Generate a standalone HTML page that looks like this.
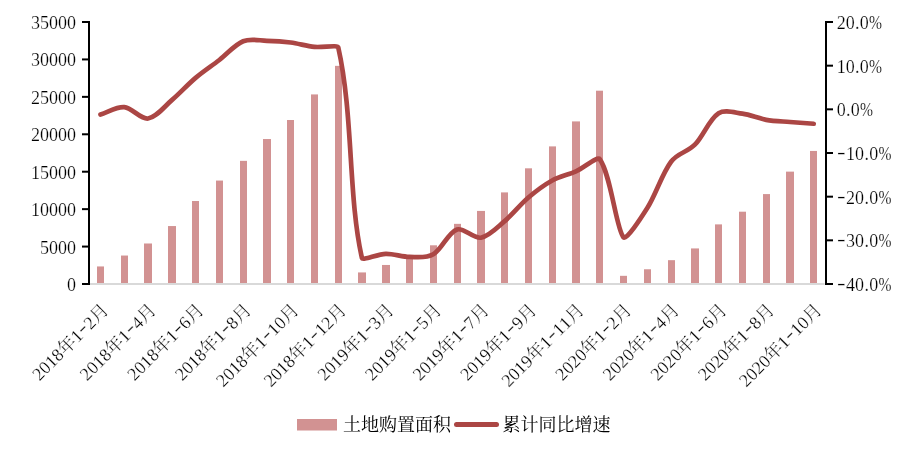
<!DOCTYPE html>
<html lang="zh-CN">
<head>
<meta charset="utf-8">
<title>土地购置面积与累计同比增速</title>
<style>
html,body{margin:0;padding:0;background:#fff;}
body{width:908px;height:454px;overflow:hidden;font-family:"Liberation Serif","Noto Serif CJK SC",serif;}
svg{display:block;}
text{white-space:pre;}
</style>
</head>
<body>
<svg width="908" height="454" viewBox="0 0 908 454">
<rect width="908" height="454" fill="#fff"/>
<g fill="#d29292">
<rect x="97" y="266.45" width="7" height="17.05"/>
<rect x="121" y="255.54" width="7" height="27.96"/>
<rect x="144" y="243.49" width="8" height="40.01"/>
<rect x="168" y="226.05" width="8" height="57.45"/>
<rect x="192" y="201.02" width="7" height="82.48"/>
<rect x="216" y="180.56" width="7" height="102.94"/>
<rect x="240" y="160.85" width="7" height="122.65"/>
<rect x="263" y="139.03" width="8" height="144.47"/>
<rect x="287" y="120.01" width="7" height="163.49"/>
<rect x="311" y="94.42" width="7" height="189.08"/>
<rect x="335" y="65.85" width="7" height="217.65"/>
<rect x="358" y="272.43" width="8" height="11.07"/>
<rect x="382" y="264.96" width="8" height="18.54"/>
<rect x="406" y="257.19" width="7" height="26.31"/>
<rect x="430" y="245.30" width="7" height="38.20"/>
<rect x="454" y="223.85" width="7" height="59.65"/>
<rect x="477" y="210.93" width="8" height="72.57"/>
<rect x="501" y="192.40" width="7" height="91.10"/>
<rect x="525" y="168.32" width="7" height="115.18"/>
<rect x="549" y="146.39" width="7" height="137.11"/>
<rect x="572" y="121.41" width="8" height="162.09"/>
<rect x="596" y="90.70" width="7" height="192.80"/>
<rect x="620" y="275.83" width="7" height="7.67"/>
<rect x="644" y="269.26" width="7" height="14.24"/>
<rect x="668" y="260.17" width="7" height="23.33"/>
<rect x="691" y="248.43" width="8" height="35.07"/>
<rect x="715" y="224.38" width="7" height="59.12"/>
<rect x="739" y="211.70" width="7" height="71.80"/>
<rect x="763" y="194.09" width="7" height="89.41"/>
<rect x="786" y="171.63" width="8" height="111.87"/>
<rect x="810" y="150.94" width="7" height="132.56"/>
</g>
<rect x="89.6" y="283.0" width="735.0" height="2" fill="#d9d9d9"/>
<g fill="#000">
<rect x="88" y="21.0" width="2" height="264.0"/>
<rect x="825" y="21.0" width="2" height="264.0"/>
<rect x="82" y="21.00" width="6" height="2"/>
<rect x="82" y="58.43" width="6" height="2"/>
<rect x="82" y="95.86" width="6" height="2"/>
<rect x="82" y="133.29" width="6" height="2"/>
<rect x="82" y="170.71" width="6" height="2"/>
<rect x="82" y="208.14" width="6" height="2"/>
<rect x="82" y="245.57" width="6" height="2"/>
<rect x="82" y="283.00" width="6" height="2"/>
<rect x="827" y="21.00" width="6" height="2"/>
<rect x="827" y="64.67" width="6" height="2"/>
<rect x="827" y="108.33" width="6" height="2"/>
<rect x="827" y="152.00" width="6" height="2"/>
<rect x="827" y="195.67" width="6" height="2"/>
<rect x="827" y="239.33" width="6" height="2"/>
<rect x="827" y="283.00" width="6" height="2"/>
</g>
<path d="M100.49,114.57 C108.41,112.10 116.46,106.51 124.26,107.15 C132.31,107.82 140.67,119.59 148.04,118.50 C156.52,117.26 164.05,106.79 171.81,100.16 C179.90,93.26 187.48,84.74 195.58,77.89 C203.33,71.35 211.47,66.08 219.36,59.99 C227.32,53.85 234.73,44.61 243.13,41.21 C250.58,38.20 258.99,40.56 266.91,40.78 C274.84,41.00 282.78,41.51 290.68,42.52 C298.63,43.55 306.50,46.09 314.45,46.89 C322.35,47.69 337.66,44.78 338.23,47.33 C353.51,115.23 348.07,197.72 362.00,258.24 C362.56,260.67 377.84,254.09 385.78,253.87 C393.69,253.65 401.62,256.85 409.55,256.93 C417.47,257.00 426.12,258.48 433.33,254.31 C441.97,249.31 447.78,232.67 457.10,229.42 C463.63,227.14 473.43,239.01 480.87,237.71 C489.28,236.25 497.01,227.57 504.65,221.12 C512.86,214.18 520.23,204.54 528.42,197.54 C536.08,191.00 544.00,185.03 552.20,180.51 C559.85,176.29 568.14,174.86 575.97,171.34 C583.99,167.73 597.45,155.92 599.75,159.11 C611.05,174.79 616.28,229.83 623.52,237.28 C626.45,240.29 640.01,219.60 647.29,208.02 C655.86,194.42 662.01,173.80 671.07,161.73 C677.86,152.69 687.51,152.18 694.84,144.70 C703.36,136.02 709.02,119.52 718.62,113.26 C724.87,109.19 734.53,112.62 742.39,113.70 C750.38,114.80 758.18,118.42 766.16,119.81 C774.03,121.19 782.01,121.34 789.94,122.00 C797.86,122.65 805.79,123.16 813.71,123.74" fill="none" stroke="#ab4644" stroke-width="4.7" stroke-linecap="round" stroke-linejoin="round"/>
<g font-family='"Liberation Serif","Noto Serif CJK SC",serif' font-size="18" fill="#000" stroke="#fff" stroke-width="0.2">
<text transform="translate(76.10,29.00)" x="-45.00 -36.00 -27.00 -18.00 -9.00" y="0 0 0 0 0">35000</text>
<text transform="translate(76.10,66.43)" x="-45.00 -36.00 -27.00 -18.00 -9.00" y="0 0 0 0 0">30000</text>
<text transform="translate(76.10,103.86)" x="-45.00 -36.00 -27.00 -18.00 -9.00" y="0 0 0 0 0">25000</text>
<text transform="translate(76.10,141.29)" x="-45.00 -36.00 -27.00 -18.00 -9.00" y="0 0 0 0 0">20000</text>
<text transform="translate(76.10,178.71)" x="-45.00 -36.00 -27.00 -18.00 -9.00" y="0 0 0 0 0">15000</text>
<text transform="translate(76.10,216.14)" x="-45.00 -36.00 -27.00 -18.00 -9.00" y="0 0 0 0 0">10000</text>
<text transform="translate(76.10,253.57)" x="-36.00 -27.00 -18.00 -9.00" y="0 0 0 0">5000</text>
<text transform="translate(76.10,291.00)" x="-9.00" y="0">0</text>
<text transform="translate(836.65,29.00)" x="0.00 9.00 18.35 23.20 32.40" y="0 0 0 0 0">20.0<tspan textLength="13.0" lengthAdjust="spacingAndGlyphs">%</tspan></text>
<text transform="translate(836.65,72.67)" x="0.00 9.00 18.35 23.20 32.40" y="0 0 0 0 0">10.0<tspan textLength="13.0" lengthAdjust="spacingAndGlyphs">%</tspan></text>
<text transform="translate(836.65,116.33)" x="0.00 9.35 14.20 23.40" y="0 0 0 0">0.0<tspan textLength="13.0" lengthAdjust="spacingAndGlyphs">%</tspan></text>
<text transform="translate(836.65,160.00)" x="0.40 9.40 18.40 27.75 32.60 41.80" y="-2.1 0 0 0 0 0"><tspan textLength="8.6" lengthAdjust="spacingAndGlyphs">-</tspan>10.0<tspan textLength="13.0" lengthAdjust="spacingAndGlyphs">%</tspan></text>
<text transform="translate(836.65,203.67)" x="0.40 9.40 18.40 27.75 32.60 41.80" y="-2.1 0 0 0 0 0"><tspan textLength="8.6" lengthAdjust="spacingAndGlyphs">-</tspan>20.0<tspan textLength="13.0" lengthAdjust="spacingAndGlyphs">%</tspan></text>
<text transform="translate(836.65,247.33)" x="0.40 9.40 18.40 27.75 32.60 41.80" y="-2.1 0 0 0 0 0"><tspan textLength="8.6" lengthAdjust="spacingAndGlyphs">-</tspan>30.0<tspan textLength="13.0" lengthAdjust="spacingAndGlyphs">%</tspan></text>
<text transform="translate(836.65,291.00)" x="0.40 9.40 18.40 27.75 32.60 41.80" y="-2.1 0 0 0 0 0"><tspan textLength="8.6" lengthAdjust="spacingAndGlyphs">-</tspan>40.0<tspan textLength="13.0" lengthAdjust="spacingAndGlyphs">%</tspan></text>
<text transform="translate(109.79,311.10) rotate(-45)" x="-99.40 -90.40 -81.40 -72.40 -63.40 -45.40 -36.00 -27.00 -18.00" y="0 0 0 0 0 0 -2.1 0 0">2018年1<tspan textLength="8.6" lengthAdjust="spacingAndGlyphs">-</tspan>2月</text>
<text transform="translate(157.34,311.10) rotate(-45)" x="-99.40 -90.40 -81.40 -72.40 -63.40 -45.40 -36.00 -27.00 -18.00" y="0 0 0 0 0 0 -2.1 0 0">2018年1<tspan textLength="8.6" lengthAdjust="spacingAndGlyphs">-</tspan>4月</text>
<text transform="translate(204.88,311.10) rotate(-45)" x="-99.40 -90.40 -81.40 -72.40 -63.40 -45.40 -36.00 -27.00 -18.00" y="0 0 0 0 0 0 -2.1 0 0">2018年1<tspan textLength="8.6" lengthAdjust="spacingAndGlyphs">-</tspan>6月</text>
<text transform="translate(252.43,311.10) rotate(-45)" x="-99.40 -90.40 -81.40 -72.40 -63.40 -45.40 -36.00 -27.00 -18.00" y="0 0 0 0 0 0 -2.1 0 0">2018年1<tspan textLength="8.6" lengthAdjust="spacingAndGlyphs">-</tspan>8月</text>
<text transform="translate(299.98,311.10) rotate(-45)" x="-108.40 -99.40 -90.40 -81.40 -72.40 -54.40 -45.00 -36.00 -27.00 -18.00" y="0 0 0 0 0 0 -2.1 0 0 0">2018年1<tspan textLength="8.6" lengthAdjust="spacingAndGlyphs">-</tspan>10月</text>
<text transform="translate(347.53,311.10) rotate(-45)" x="-108.40 -99.40 -90.40 -81.40 -72.40 -54.40 -45.00 -36.00 -27.00 -18.00" y="0 0 0 0 0 0 -2.1 0 0 0">2018年1<tspan textLength="8.6" lengthAdjust="spacingAndGlyphs">-</tspan>12月</text>
<text transform="translate(395.08,311.10) rotate(-45)" x="-99.40 -90.40 -81.40 -72.40 -63.40 -45.40 -36.00 -27.00 -18.00" y="0 0 0 0 0 0 -2.1 0 0">2019年1<tspan textLength="8.6" lengthAdjust="spacingAndGlyphs">-</tspan>3月</text>
<text transform="translate(442.63,311.10) rotate(-45)" x="-99.40 -90.40 -81.40 -72.40 -63.40 -45.40 -36.00 -27.00 -18.00" y="0 0 0 0 0 0 -2.1 0 0">2019年1<tspan textLength="8.6" lengthAdjust="spacingAndGlyphs">-</tspan>5月</text>
<text transform="translate(490.17,311.10) rotate(-45)" x="-99.40 -90.40 -81.40 -72.40 -63.40 -45.40 -36.00 -27.00 -18.00" y="0 0 0 0 0 0 -2.1 0 0">2019年1<tspan textLength="8.6" lengthAdjust="spacingAndGlyphs">-</tspan>7月</text>
<text transform="translate(537.72,311.10) rotate(-45)" x="-99.40 -90.40 -81.40 -72.40 -63.40 -45.40 -36.00 -27.00 -18.00" y="0 0 0 0 0 0 -2.1 0 0">2019年1<tspan textLength="8.6" lengthAdjust="spacingAndGlyphs">-</tspan>9月</text>
<text transform="translate(585.27,311.10) rotate(-45)" x="-108.40 -99.40 -90.40 -81.40 -72.40 -54.40 -45.00 -36.00 -27.00 -18.00" y="0 0 0 0 0 0 -2.1 0 0 0">2019年1<tspan textLength="8.6" lengthAdjust="spacingAndGlyphs">-</tspan>11月</text>
<text transform="translate(632.82,311.10) rotate(-45)" x="-99.40 -90.40 -81.40 -72.40 -63.40 -45.40 -36.00 -27.00 -18.00" y="0 0 0 0 0 0 -2.1 0 0">2020年1<tspan textLength="8.6" lengthAdjust="spacingAndGlyphs">-</tspan>2月</text>
<text transform="translate(680.37,311.10) rotate(-45)" x="-99.40 -90.40 -81.40 -72.40 -63.40 -45.40 -36.00 -27.00 -18.00" y="0 0 0 0 0 0 -2.1 0 0">2020年1<tspan textLength="8.6" lengthAdjust="spacingAndGlyphs">-</tspan>4月</text>
<text transform="translate(727.92,311.10) rotate(-45)" x="-99.40 -90.40 -81.40 -72.40 -63.40 -45.40 -36.00 -27.00 -18.00" y="0 0 0 0 0 0 -2.1 0 0">2020年1<tspan textLength="8.6" lengthAdjust="spacingAndGlyphs">-</tspan>6月</text>
<text transform="translate(775.46,311.10) rotate(-45)" x="-99.40 -90.40 -81.40 -72.40 -63.40 -45.40 -36.00 -27.00 -18.00" y="0 0 0 0 0 0 -2.1 0 0">2020年1<tspan textLength="8.6" lengthAdjust="spacingAndGlyphs">-</tspan>8月</text>
<text transform="translate(823.01,311.10) rotate(-45)" x="-108.40 -99.40 -90.40 -81.40 -72.40 -54.40 -45.00 -36.00 -27.00 -18.00" y="0 0 0 0 0 0 -2.1 0 0 0">2020年1<tspan textLength="8.6" lengthAdjust="spacingAndGlyphs">-</tspan>10月</text>
</g>
<g font-family='"Liberation Serif","Noto Serif CJK SC",serif' font-size="18" fill="#000">
<text transform="translate(343.00,431.00)" x="0.00 18.00 36.00 54.00 72.00 90.00" y="0 0 0 0 0 0">土地购置面积</text>
<text transform="translate(502.50,431.00)" x="0.00 18.00 36.00 54.00 72.00 90.00" y="0 0 0 0 0 0">累计同比增速</text>
</g>
<rect x="297" y="419" width="40" height="11.5" fill="#d29292"/>
<line x1="456.5" y1="424.5" x2="496.5" y2="424.5" stroke="#ab4644" stroke-width="5" stroke-linecap="round"/>
</svg>
</body>
</html>
